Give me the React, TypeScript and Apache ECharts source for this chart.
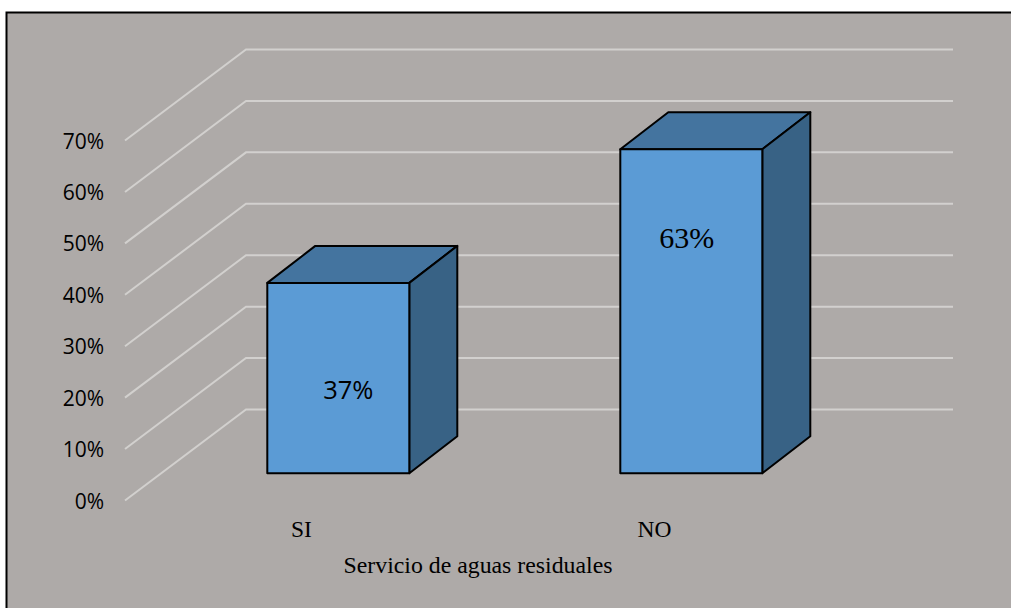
import React, { useEffect, useRef } from "react";
import * as echarts from "echarts";

const categories = ["SI", "NO"];
const shares = [37, 63];
const shareLabels = ["37%", "63%"];
const axisTicks = [0, 10, 20, 30, 40, 50, 60, 70];
const axisTitle = "Servicio de aguas residuales";

// Oblique projection of the chart box, in pixels
const WALL_DX = 121;
const WALL_DY = -91;
const BAR_NEAR_DX = 36.8;
const BAR_NEAR_DY = -27.3;
const BAR_DX = 48;
const BAR_DY = -37;
const BAR_WIDTH = 142;

const FRONT = "#5B9BD5";
const TOP = "#44749F";
const SIDE = "#386285";
const GRID = "#D2D0CE";
const PANEL = "#AEAAA8";

// Each value label sits where it was dragged to on its bar face
const labelStyles = [
  { dx: 10, dy: 106, family: "Open Sans", size: 25.5 },
  { dx: -4.5, dy: 88, family: "Liberation Serif", size: 30 },
];

export default function App() {
  const ref = useRef<HTMLDivElement>(null);

  useEffect(() => {
    const chart = echarts.init(ref.current!, undefined, { renderer: "svg" });
    chart.setOption({
      animation: false,
      backgroundColor: "#FFFFFF",
      graphic: [
        {
          type: "rect",
          z: -10,
          silent: true,
          shape: { x: 6.5, y: 12.5, width: 1020, height: 620 },
          style: { fill: PANEL, stroke: "#000000", lineWidth: 2 },
        },
      ],
      grid: { left: 125, top: 140.5, width: 706, height: 360 },
      xAxis: {
        type: "category",
        data: categories,
        axisLine: { show: false },
        axisTick: { show: false },
        axisLabel: {
          color: "#000000",
          fontFamily: "Liberation Serif",
          fontSize: 23.5,
          margin: 16,
        },
        name: axisTitle,
        nameLocation: "middle",
        nameGap: 52,
        nameTextStyle: {
          color: "#000000",
          fontFamily: "Liberation Serif",
          fontSize: 23.8,
        },
      },
      yAxis: {
        type: "value",
        min: 0,
        max: 70,
        interval: 10,
        axisLine: { show: false },
        axisTick: { show: false },
        splitLine: { show: false },
        axisLabel: {
          color: "#000000",
          fontFamily: "Open Sans",
          fontSize: 21,
          margin: 21,
          padding: [2, 0, 0, 0],
          formatter: (v: number) => `${v}%`,
        },
      },
      series: [
        {
          type: "custom",
          coordinateSystem: "cartesian2d",
          silent: true,
          z: 1,
          encode: { y: 0 },
          data: axisTicks.map((t) => [t]),
          renderItem: (params: any, api: any) => {
            const sys = params.coordSys;
            const y = api.coord([0, api.value(0)])[1];
            return {
              type: "polyline",
              shape: {
                points: [
                  [sys.x, y],
                  [sys.x + WALL_DX, y + WALL_DY],
                  [sys.x + sys.width + WALL_DX + 1, y + WALL_DY],
                ],
              },
              style: { fill: "none", stroke: GRID, lineWidth: 2 },
            };
          },
        },
        {
          type: "custom",
          coordinateSystem: "cartesian2d",
          silent: true,
          z: 2,
          encode: { x: 0, y: 1 },
          data: categories.map((c, i) => [i, shares[i]]),
          renderItem: (params: any, api: any) => {
            const i = api.value(0);
            const top = api.coord([i, api.value(1)]);
            const base = api.coord([i, 0]);
            const x0 = top[0] + BAR_NEAR_DX - BAR_WIDTH / 2;
            const x1 = x0 + BAR_WIDTH;
            const yT = top[1] + BAR_NEAR_DY;
            const yB = base[1] + BAR_NEAR_DY;
            const edge = { stroke: "#000000", lineWidth: 2, lineJoin: "round" };
            const label = labelStyles[i];
            return {
              type: "group",
              children: [
                {
                  type: "polygon",
                  shape: {
                    points: [
                      [x0, yT],
                      [x0 + BAR_DX, yT + BAR_DY],
                      [x1 + BAR_DX, yT + BAR_DY],
                      [x1, yT],
                    ],
                  },
                  style: { fill: TOP, ...edge },
                },
                {
                  type: "polygon",
                  shape: {
                    points: [
                      [x1, yT],
                      [x1 + BAR_DX, yT + BAR_DY],
                      [x1 + BAR_DX, yB + BAR_DY],
                      [x1, yB],
                    ],
                  },
                  style: { fill: SIDE, ...edge },
                },
                {
                  type: "rect",
                  shape: { x: x0, y: yT, width: BAR_WIDTH, height: yB - yT },
                  style: { fill: FRONT, ...edge },
                },
                {
                  type: "text",
                  x: (x0 + x1) / 2 + label.dx,
                  y: yT + label.dy,
                  style: {
                    text: shareLabels[i],
                    align: "center",
                    verticalAlign: "middle",
                    fill: "#000000",
                    fontFamily: label.family,
                    fontSize: label.size,
                  },
                },
              ],
            };
          },
        },
      ],
    });
    return () => chart.dispose();
  }, []);

  return (
    <div
      ref={ref}
      style={{ position: "absolute", left: 0, top: 0, width: 1011, height: 608 }}
    />
  );
}
